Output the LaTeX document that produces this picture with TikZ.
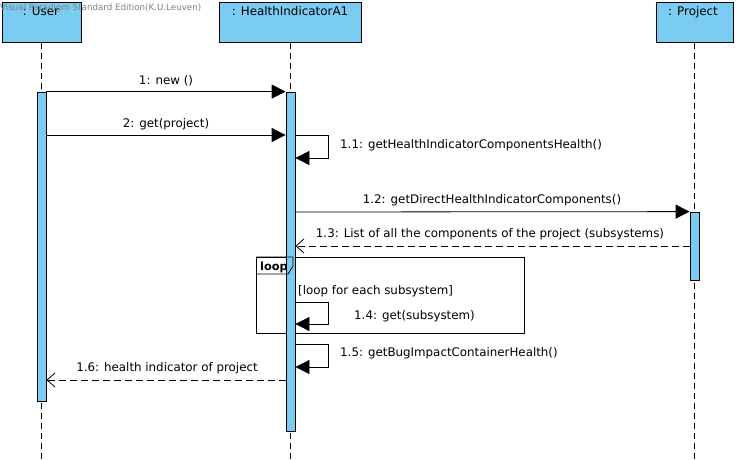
\documentclass[tikz,border=0pt]{standalone}
\usepackage{fontspec}
\setmainfont{DejaVu Sans}
\usetikzlibrary{arrows.meta}
\definecolor{lb}{RGB}{122,204,242}
\definecolor{wm}{RGB}{128,128,128}
\tikzset{
  head/.style={draw, fill=lb, line width=1pt, minimum height=40pt, inner sep=0pt},
  headtxt/.style={font=\fontsize{11.9}{13}\selectfont, anchor=base, inner sep=0pt},
  lifeline/.style={line width=0.8pt, dash pattern=on 6pt off 4pt},
  act/.style={draw, fill=lb, line width=0.8pt, minimum width=9pt, inner sep=0pt},
  msg/.style={line width=0.8pt, -{Triangle[length=14pt,width=14pt]}},
  ret/.style={line width=0.8pt, dash pattern=on 7pt off 4pt, -{Straight Barb[length=8pt,width=14pt,line width=0.8pt]}},
  lbl/.style={font=\fontsize{11.85}{13}\selectfont, anchor=base, inner sep=0pt},
  lbll/.style={font=\fontsize{11.85}{13}\selectfont, anchor=base west, inner sep=0pt},
}
\begin{document}
\begin{tikzpicture}[x=1pt,y=-1pt]
\useasboundingbox[fill=white] (0,0) rectangle (739,459);
% heads
\node[head, minimum width=79pt] (user) at (41.5,22) {};
\node[head, minimum width=142pt] (hia) at (290,22) {};
\node[head, minimum width=77pt] (proj) at (694.5,22) {};
\node[headtxt] (usert) at (41,15) {: User};
\node[headtxt] (hiat) at (290,15) {: HealthIndicatorA1};
\node[headtxt] (projt) at (693,15) {: Project};
% watermark
\node[font=\fontsize{8.7}{10}\selectfont, text=wm, anchor=base west, inner sep=0pt] (wmk) at (0,10.5) {Visual Paradigm Standard Edition(K.U.Leuven)};
% lifeline ends
\coordinate (ue) at (41,459);
\coordinate (he) at (290,459);
\coordinate (pe) at (694,459);
\draw[lifeline] (user.south -| ue) -- (ue);
\draw[lifeline] (hia.south -| he) -- (he);
\draw[lifeline] (proj.south -| pe) -- (pe);
% loop frame
\node[draw, line width=0.8pt, minimum width=268pt, minimum height=76pt, anchor=north west, inner sep=0pt] (loop) at (256,257) {};
% activations
\node[act, minimum height=309pt] (ua) at (41.5,246.5) {};
\node[act, minimum height=339pt] (ha) at (290.5,261.5) {};
\node[act, minimum height=68pt] (pa) at (694.5,246) {};
% loop tab
\draw[line width=0.8pt] (loop.north west) -- ++(37,0) -- ++(0,9) -- ++(-5,8) -- ++(-32,0);
\node[font=\bfseries\fontsize{11.3}{13}\selectfont, anchor=base west, inner sep=0pt] (loopt) at (260,270) {loop};
\node[lbll] (guard) at (298,294) {[loop for each subsystem]};
% y levels
\coordinate (y2) at (0,135);
\coordinate (y11b) at (0,158);
\coordinate (y12) at (0,212);
\coordinate (y13) at (0,246);
\coordinate (y14a) at (0,302);
\coordinate (y14b) at (0,324);
\coordinate (y15a) at (0,344);
\coordinate (y15b) at (0,367);
\coordinate (y16) at (0,380);
% 1
\draw[msg] (ua.north east) -- (ha.north west);
\node[lbl] (l1) at (166,84) {1: new ()};
% 2
\draw[msg] (ua.east |- y2) -- (ha.west |- y2);
\node[lbl] (l2) at (166,127) {2: get(project)};
% 1.1
\draw[msg] (ha.east |- y2) -- ++(33,0) |- (ha.east |- y11b);
\node[lbll] (l11) at (340,148) {1.1: getHealthIndicatorComponentsHealth()};
% 1.2
\draw[msg] (ha.east |- y12) -- (pa.north west);
\node[lbl] (l12) at (492,203.5) {1.2: getDirectHealthIndicatorComponents()};
% 1.3
\draw[ret] (pa.west |- y13) -- (ha.east |- y13);
\node[lbl] (l13) at (490,237.3) {1.3: List of all the components of the project (subsystems)};
% 1.4
\draw[msg] (ha.east |- y14a) -- ++(33,0) |- (ha.east |- y14b);
\node[lbll] (l14) at (354,319.3) {1.4: get(subsystem)};
% 1.5
\draw[msg] (ha.east |- y15a) -- ++(33,0) |- (ha.east |- y15b);
\node[lbll] (l15) at (340,356) {1.5: getBugImpactContainerHealth()};
% 1.6
\draw[ret] (ha.west |- y16) -- (ua.east |- y16);
\node[lbl] (l16) at (167,371.7) {1.6: health indicator of project};
\end{tikzpicture}
\end{document}
